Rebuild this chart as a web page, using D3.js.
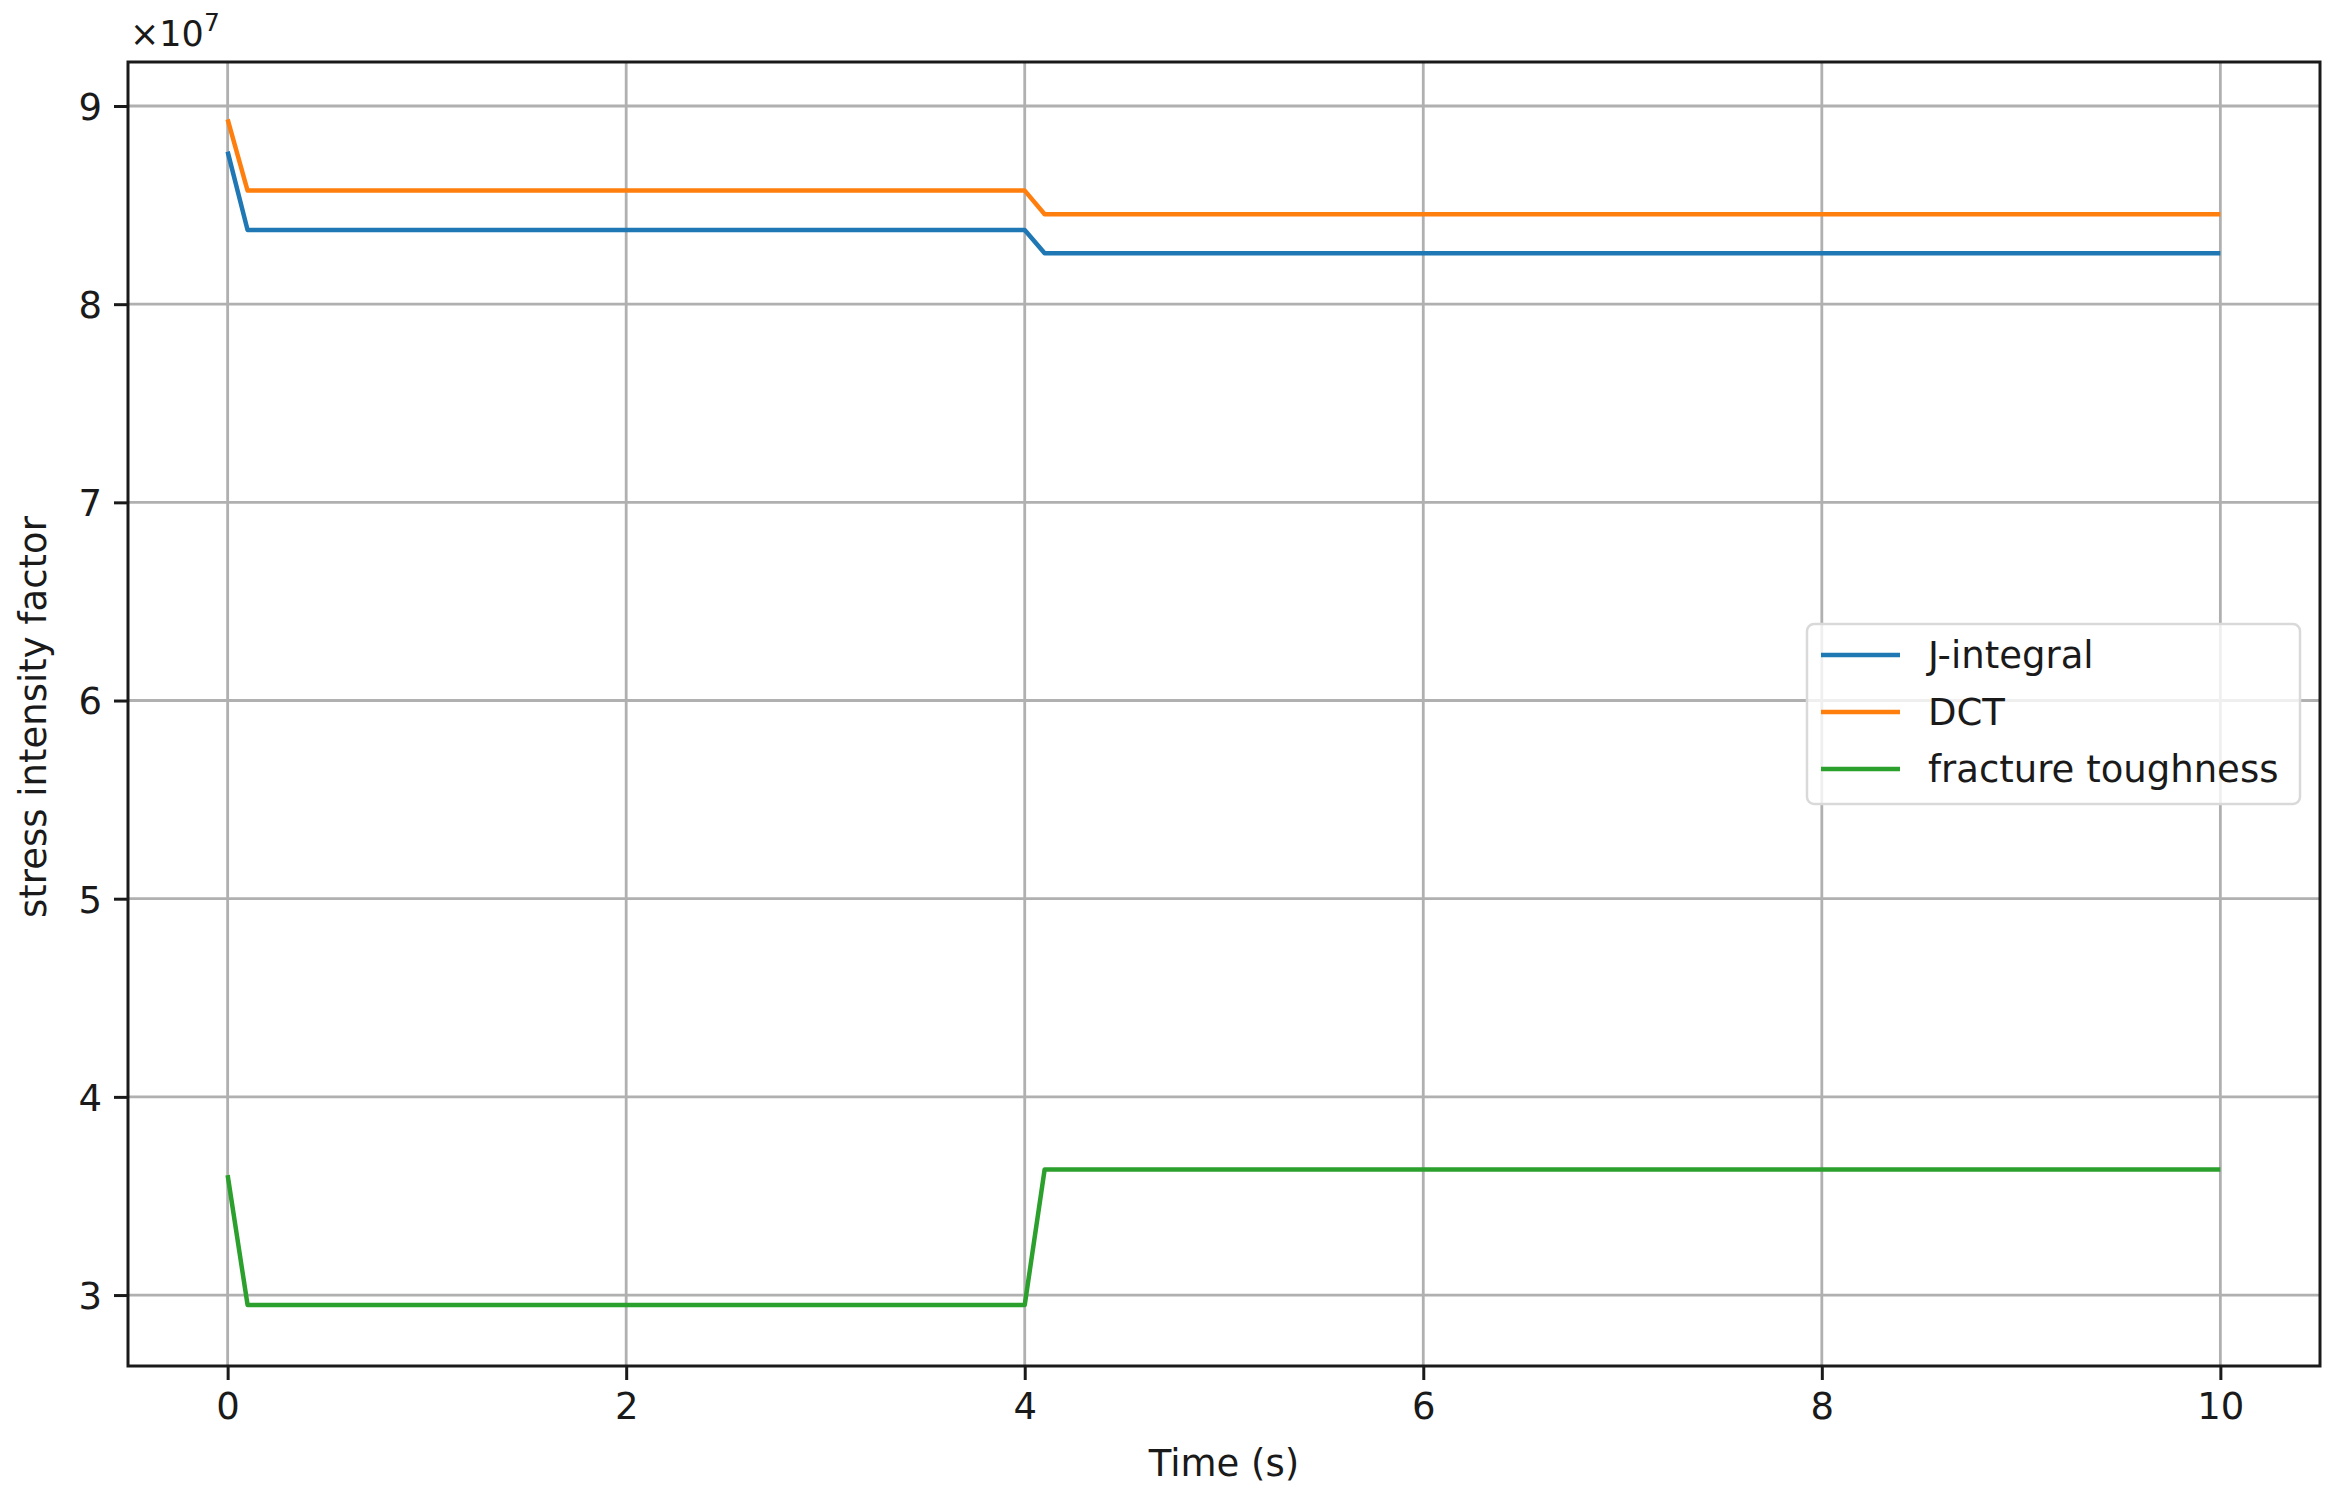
<!DOCTYPE html>
<html>
<head>
<meta charset="utf-8">
<script src="https://cdn.jsdelivr.net/npm/d3@7"></script>
<style>
  html, body { margin: 0; padding: 0; background: #fff; }
  svg { display: block; }
  text { font-family: "DejaVu Sans", sans-serif; fill: #1a1a1a; }
</style>
</head>
<body>
<script>
// ---- data (values in units of 1e7) ----
const time = [0, 0.1, 4.0, 4.1, 10];
const jIntegral = [8.77, 8.374, 8.374, 8.257, 8.257];
const dct = [8.933, 8.573, 8.573, 8.454, 8.454];
const fractureToughness = [3.605, 2.95, 2.95, 3.634, 3.634];
const seriesNames = ["J-integral", "DCT", "fracture toughness"];
const seriesColors = ["#1f77b4", "#ff7f0e", "#2ca02c"];
const xTicks = [0, 2, 4, 6, 8, 10];
const yTicks = [3, 4, 5, 6, 7, 8, 9];
const xLabel = "Time (s)";
const yLabel = "stress intensity factor";

const W = 2342, H = 1499;
const pLeft = 128, pRight = 2320, pTop = 62, pBottom = 1366;
const FS = 37;

const svg = d3.select("body").append("svg").attr("width", W).attr("height", H);

const x = d3.scaleLinear().domain([-0.5, 10.5]).range([pLeft, pRight]);
const y = d3.scaleLinear().domain([2.642, 9.222]).range([pBottom, pTop]);

// grid
const grid = svg.append("g");
grid.selectAll("line.gx").data(xTicks).join("line").attr("class", "gx")
  .attr("x1", d => x(d)).attr("x2", d => x(d))
  .attr("y1", pTop).attr("y2", pBottom)
  .attr("stroke", "#b0b0b0").attr("stroke-width", 2.8);
grid.selectAll("line.gy").data(yTicks).join("line").attr("class", "gy")
  .attr("y1", d => y(d)).attr("y2", d => y(d))
  .attr("x1", pLeft).attr("x2", pRight)
  .attr("stroke", "#b0b0b0").attr("stroke-width", 2.8);

// lines
const allSeries = [jIntegral, dct, fractureToughness];
const line = d3.line().x((d, i) => x(time[i])).y(d => y(d));
svg.append("g").selectAll("path").data(allSeries).join("path")
  .attr("d", d => line(d))
  .attr("fill", "none")
  .attr("stroke", (d, i) => seriesColors[i])
  .attr("stroke-width", 4.5)
  .attr("stroke-linejoin", "round")
  .attr("stroke-linecap", "butt");

// axes
const xAxis = svg.append("g").attr("transform", `translate(0,${pBottom})`)
  .call(d3.axisBottom(x).tickValues(xTicks).tickSize(14).tickPadding(11).tickFormat(d3.format("d")));
const yAxis = svg.append("g").attr("transform", `translate(${pLeft},0)`)
  .call(d3.axisLeft(y).tickValues(yTicks).tickSize(14).tickPadding(12).tickFormat(d3.format("d")));
[xAxis, yAxis].forEach(a => {
  a.select(".domain").remove();
  a.selectAll(".tick line").attr("stroke", "#1a1a1a").attr("stroke-width", 3);
  a.selectAll(".tick text").attr("font-size", FS).attr("font-family", "DejaVu Sans").attr("fill", "#1a1a1a");
});
xAxis.selectAll(".tick text").attr("dy", "0.76em");
yAxis.selectAll(".tick text").attr("dy", "0.36em");

// spines
svg.append("rect")
  .attr("x", pLeft).attr("y", pTop)
  .attr("width", pRight - pLeft).attr("height", pBottom - pTop)
  .attr("fill", "none").attr("stroke", "#1a1a1a").attr("stroke-width", 3);

// offset text
const off = svg.append("text").attr("x", 130).attr("y", 46).attr("font-size", 35);
off.append("tspan").text("×10");
off.append("tspan").attr("font-size", 25).attr("dy", -15).text("7");

// axis labels
svg.append("text").attr("x", (pLeft + pRight) / 2).attr("y", 1476)
  .attr("text-anchor", "middle").attr("font-size", FS).text(xLabel);
svg.append("text").attr("transform", "translate(46,717) rotate(-90)")
  .attr("text-anchor", "middle").attr("font-size", FS).text(yLabel);

// legend
const lg = svg.append("g");
lg.append("rect").attr("x", 1807).attr("y", 624).attr("width", 493).attr("height", 180)
  .attr("rx", 7).attr("fill", "#fff").attr("fill-opacity", 0.8)
  .attr("stroke", "#d9d9d9").attr("stroke-width", 2.5);
const rows = lg.selectAll("g.row").data(seriesNames).join("g").attr("class", "row")
  .attr("transform", (d, i) => `translate(0,${655 + i * 57})`);
rows.append("line").attr("x1", 1821).attr("x2", 1900).attr("y1", 0).attr("y2", 0)
  .attr("stroke", (d, i) => seriesColors[i]).attr("stroke-width", 4.5);
rows.append("text").attr("x", 1928).attr("y", 0).attr("dy", "0.36em")
  .attr("font-size", FS).text(d => d);
</script>
</body>
</html>
